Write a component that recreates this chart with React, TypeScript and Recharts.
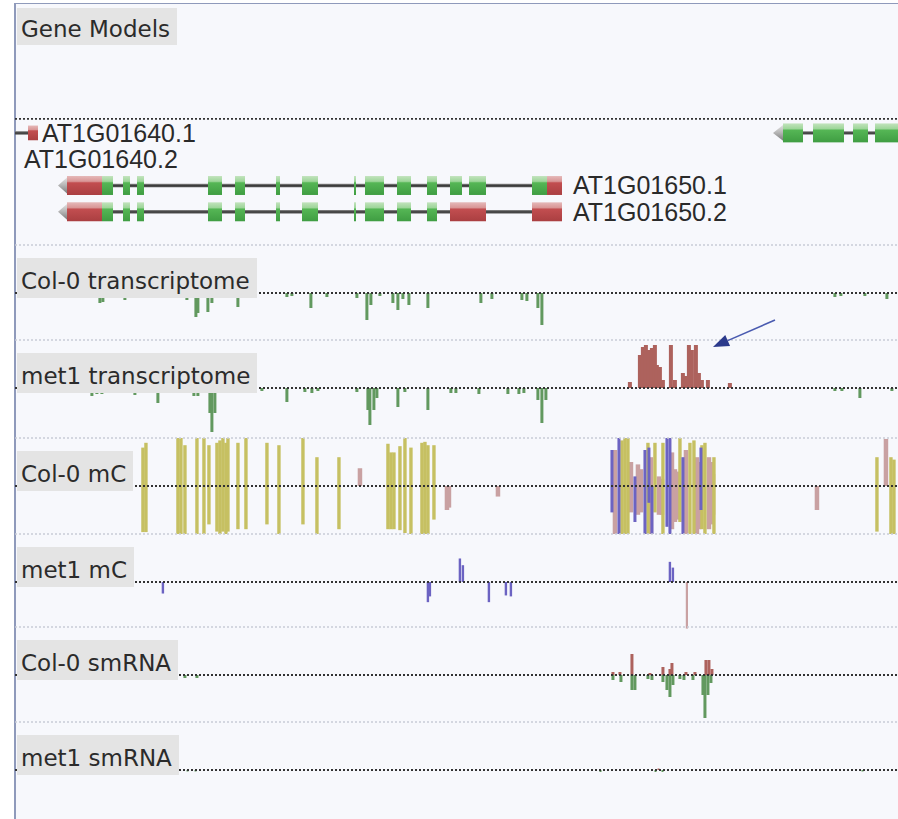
import React from 'react';
import {
  ComposedChart,
  Bar,
  XAxis,
  YAxis,
  ReferenceLine,
  ReferenceArea,
  ReferenceDot,
} from 'recharts';

// window shown: 8.83 kb, positions in bp from the left edge of the panel
const SPAN = 8830;
const PLOT_W = 883;
const TRACK_H = 96;

const TX_GREEN = '#62995f';
const TX_RED = '#ad625d';
const MC_CG = '#c6c062';
const MC_CHG = '#6c63c2';
const MC_CHH = '#c9a1a2';

// ---------- gene models ----------
const geneLabels = [
  { name: 'AT1G01640.1', pos: 270, row: 1 },
  { name: 'AT1G01640.2', pos: 90, row: 2 },
  { name: 'AT1G01650.1', pos: 5580, row: 3 },
  { name: 'AT1G01650.2', pos: 5580, row: 4 },
];
// [row, start, end]
const geneBackbones: [number, number, number][] = [
  [1, 0, 130],
  [3, 500, 5470],
  [4, 500, 5470],
  [1, 7660, SPAN],
];
const geneTips: [number, number, number][] = [
  [3, 430, 520],
  [4, 430, 520],
  [1, 7580, 7680],
];
type Exon = [number, number, 'cds' | 'utr'];
const exons1640_1: Exon[] = [[130, 230, 'utr']];
const exons1650_1: Exon[] = [
  [520, 870, 'utr'], [870, 980, 'cds'], [1080, 1150, 'cds'], [1220, 1290, 'cds'],
  [1930, 2070, 'cds'], [2200, 2300, 'cds'], [2610, 2650, 'cds'], [2870, 3030, 'cds'],
  [3390, 3410, 'cds'], [3500, 3690, 'cds'], [3820, 3960, 'cds'], [4120, 4220, 'cds'],
  [4350, 4470, 'cds'], [4540, 4710, 'cds'], [5170, 5320, 'cds'], [5320, 5470, 'utr'],
];
const exons1650_2: Exon[] = [
  [520, 870, 'utr'], [870, 980, 'cds'], [1080, 1150, 'cds'], [1220, 1290, 'cds'],
  [1930, 2070, 'cds'], [2200, 2300, 'cds'], [2610, 2650, 'cds'], [2870, 3030, 'cds'],
  [3390, 3410, 'cds'], [3500, 3690, 'cds'], [3820, 3960, 'cds'], [4120, 4220, 'cds'],
  [4350, 4710, 'utr'], [5170, 5470, 'utr'],
];
const exonsNext: Exon[] = [
  [7680, 7880, 'cds'], [7980, 8290, 'cds'], [8380, 8530, 'cds'], [8600, SPAN, 'cds'],
];

// ---------- transcriptome (read coverage, - strand down) ----------
const col0TxMinus: [number, number][] = [
  [850, -10], [880, -9], [1100, -7], [1720, -7], [1810, -24], [1830, -20], [1930, -19],
  [1970, -10], [2230, -14], [2720, -4], [2770, -3], [2960, -15], [3120, -4], [3420, -5],
  [3520, -27], [3560, -12], [3650, -3], [3780, -10], [3830, -17], [3880, -6], [3940, -12],
  [4130, -15], [4660, -10], [4770, -6], [5070, -7], [5120, -8], [5230, -15], [5270, -32],
  [8200, -4], [8260, -3], [8500, -3], [8720, -6],
];
const met1TxMinus: [number, number][] = [
  [770, -8], [820, -6], [870, -6], [1200, -7], [1430, -15], [1790, -8], [1830, -8],
  [1950, -25], [1970, -44], [2000, -25], [2250, -4], [2400, -3], [2470, -3], [2720, -14],
  [2900, -4], [2970, -5], [3030, -3], [3420, -4], [3530, -22], [3550, -37], [3590, -22],
  [3620, -10], [3830, -19], [3900, -4], [4130, -22], [4360, -5], [4410, -5], [4640, -6],
  [4930, -6], [5040, -6], [5090, -5], [5230, -12], [5270, -35], [5310, -12], [8200, -3],
  [8270, -3], [8450, -10], [8770, -3],
];
const met1TxPlus: [number, number][] = [
  [6150, 6], [6250, 33], [6280, 41], [6310, 43], [6340, 38], [6370, 40], [6400, 43],
  [6420, 23], [6450, 21], [6480, 8], [6560, 43], [6600, 8], [6680, 15], [6710, 12],
  [6740, 43], [6770, 38], [6810, 43], [6840, 15], [6870, 8], [6930, 8], [7150, 5],
];
const arrowFrom = { pos: 7600, v: 68 };
const arrowTo = { pos: 6980, v: 41 };

// ---------- methylation [pos, low, high] ----------
const col0CG: [number, number, number][] = [
  [1280, -0.96, 0.8], [1310, -0.96, 0.9], [1630, -1, 1], [1660, -1, 1], [1700, -1, 0.85],
  [1820, -1, 1], [1890, -1, 1], [1940, -0.8, 0.85], [2020, -0.95, 0.9], [2050, -1, 0.95],
  [2080, -0.95, 1], [2110, -1, 0.9], [2130, -0.95, 1], [2230, -0.9, 0.9], [2310, -0.9, 1],
  [2520, -0.8, 0.9], [2640, -1, 0.85], [2880, -0.8, 1], [3020, -1, 0.6], [3240, -0.9, 0.6],
  [3730, -0.9, 0.88], [3760, -0.9, 0.7], [3790, -0.9, 0.7], [3850, -0.92, 0.83],
  [3900, -0.98, 1], [3960, -1, 0.8], [4070, -1, 0.9], [4100, -1, 0.92], [4130, -1, 0.85],
  [4190, -0.7, 0.85],
  [6070, -1, 0.95], [6100, -1, 1], [6130, -1, 1], [6330, -1, 0.9], [6400, -0.55, 0.9],
  [6480, -1, 0.9], [6650, -0.75, 1], [6750, -1, 0.9], [6790, -1, 0.95], [6870, -0.9, 0.85],
  [6900, -1, 0.9], [6990, -1, 0.6],
  [8620, -0.95, 0.6], [8760, -1, 0.6], [8790, -1, 0.55],
];
const col0CHG: [number, number, number][] = [
  [5970, -0.55, 0.75], [6040, -1, 1], [6200, -0.75, 0.2], [6300, -1, 0.75], [6340, -0.35, 0.8],
  [6370, -1, 0], [6520, -0.85, 1], [6550, -1, 1], [6680, -1, 0.6], [6860, -0.5, 0.8],
];
const col0CHH: [number, number, number][] = [
  [3450, 0, 0.37], [4320, -0.5, 0], [4340, -0.45, 0], [4830, -0.22, 0],
  [6000, -1, 0.75], [6160, -0.55, 0.5], [6230, -0.6, 0.45], [6260, -0.55, 0.35], [6360, -1, 0.6],
  [6440, -0.6, 0.2], [6470, -0.6, 0.15], [6570, -0.9, 0.7], [6600, -0.75, 0.35],
  [6620, -0.7, 0.3], [6710, -1, 0.75], [6820, -1, 0.6], [6840, -0.9, 0.5],
  [6940, -0.9, 0.6], [6960, -0.8, 0.5], [6980, -0.6, 0.25],
  [8020, -0.5, 0], [8710, 0, 0.98],
];
const met1CHG: [number, number][] = [
  [1480, -0.24], [4130, -0.42], [4150, -0.3], [4450, 0.49], [4480, 0.35], [4740, -0.42],
  [4910, -0.28], [4960, -0.3], [6550, 0.42], [6580, 0.3],
];
const met1CHH: [number, number][] = [[6720, -0.97]];

// ---------- small RNA ----------
const col0SmMinus: [number, number][] = [
  [1700, -3], [1820, -3], [5980, -5], [6060, -7], [6170, -15], [6200, -15], [6330, -4],
  [6370, -5], [6480, -7], [6520, -15], [6550, -22], [6580, -10], [6650, -4], [6690, -5],
  [6780, -5], [6880, -20], [6900, -43], [6930, -20], [6960, -8],
];
const col0SmPlus: [number, number][] = [
  [5980, 3], [6050, 3], [6170, 21], [6350, 2], [6480, 8], [6550, 6], [6570, 12],
  [6710, 3], [6800, 3], [6910, 15], [6940, 15], [6970, 6],
];
const met1SmMinus: [number, number][] = [
  [1720, -1.5], [1800, -1.5], [5850, -2], [6400, -2], [6470, -2], [8470, -1.5],
];
const met1SmPlus: [number, number][] = [[6430, 1.5]];

type Series = { data: { pos: number; v: number | [number, number] }[]; color: string; w: number };

const pts = (a: [number, number][]) => a.map(([pos, v]) => ({ pos, v }));
const ranges = (a: [number, number, number][]) =>
  a.map(([pos, lo, hi]) => ({ pos, v: [lo, hi] as [number, number] }));

// draw each bar with a fixed width, centred on its position
const thinBar = (w: number) => (p: any) => {
  const { x, y, width, height, fill } = p;
  if (![x, y, width, height].every((n) => Number.isFinite(n))) return <g />;
  const cx = x + width / 2;
  return (
    <rect x={cx - w / 2} y={Math.min(y, y + height)} width={w} height={Math.abs(height)} fill={fill} />
  );
};

const ArrowShape = (p: any) => {
  const { x1, y1, x2, y2 } = p;
  const a = Math.atan2(y2 - y1, x2 - x1);
  const L = 16;
  const W = 6;
  const bx = x2 - L * Math.cos(a);
  const by = y2 - L * Math.sin(a);
  const nx = -Math.sin(a) * W;
  const ny = Math.cos(a) * W;
  return (
    <g>
      <line x1={x1} y1={y1} x2={bx} y2={by} stroke="#4a5bb0" strokeWidth={1.6} />
      <polygon points={`${x2},${y2} ${bx + nx},${by + ny} ${bx - nx},${by - ny}`} fill="#2c3a8c" />
    </g>
  );
};

const TipShape = (p: any) => {
  const { x, y, width, height } = p;
  return (
    <polygon
      points={`${x},${y + height / 2} ${x + width},${y} ${x + width},${y + height}`}
      fill="url(#tipGrad)"
    />
  );
};

const TrackLabel = ({ top, text, h = 40 }: { top: number; text: string; h?: number }) => (
  <div
    style={{
      position: 'absolute',
      left: 17,
      top,
      height: h - 3,
      paddingTop: 3,
      paddingLeft: 4,
      paddingRight: 7,
      lineHeight: `${h}px`,
      background: '#e4e4e4',
      fontFamily: '"DejaVu Sans", Verdana, sans-serif',
      fontSize: 23,
      color: '#2b2b2b',
      whiteSpace: 'nowrap',
    }}
  >
    {text}
  </div>
);

const Track = ({
  top,
  max,
  series,
  children,
}: {
  top: number;
  max: number;
  series: Series[];
  children?: React.ReactNode;
}) => {
  const rows = series.flatMap((s, i) => s.data.map((d) => ({ pos: d.pos, ['s' + i]: d.v })));
  return (
    <div style={{ position: 'absolute', left: 15, top, width: PLOT_W, height: TRACK_H }}>
      <ComposedChart width={PLOT_W} height={TRACK_H} data={rows} margin={{ top: 0, right: 0, bottom: 0, left: 0 }}>
        <YAxis type="number" domain={[-max, max]} hide allowDataOverflow />
        {series.map((s, i) => (
          <XAxis key={i} xAxisId={i} type="number" dataKey="pos" domain={[0, SPAN]} hide allowDataOverflow />
        ))}
        <ReferenceLine xAxisId={0} y={max} stroke="#c9ccd6" strokeDasharray="2 2" strokeWidth={1.5} />
        <ReferenceLine xAxisId={0} y={0} stroke="#333" strokeDasharray="2 2" strokeWidth={1.8} />
        {series.map((s, i) => (
          <Bar
            key={i}
            xAxisId={i}
            dataKey={'s' + i}
            fill={s.color}
            barSize={s.w}
            isAnimationActive={false}
            shape={thinBar(s.w)}
          />
        ))}
        {children}
      </ComposedChart>
    </div>
  );
};

const exonAreas = (row: number, exons: Exon[], half = 0.36) =>
  exons.map(([s, e, kind], i) => (
    <ReferenceArea
      key={`${row}-${s}-${i}`}
      x1={s}
      x2={e}
      y1={row - half}
      y2={row + half}
      fill={kind === 'cds' ? 'url(#cdsGrad)' : 'url(#utrGrad)'}
      fillOpacity={1}
      stroke="none"
    />
  ));

const GeneModels = () => (
  <div style={{ position: 'absolute', left: 15, top: 4, width: PLOT_W, height: 242 }}>
    <ComposedChart width={PLOT_W} height={242} data={geneLabels} margin={{ top: 0, right: 0, bottom: 0, left: 0 }}>
      <defs>
        <linearGradient id="cdsGrad" x1="0" y1="0" x2="0" y2="1">
          <stop offset="0" stopColor="#c2e3bd" />
          <stop offset="0.28" stopColor="#9ed69a" />
          <stop offset="0.36" stopColor="#55b655" />
          <stop offset="1" stopColor="#3f9d42" />
        </linearGradient>
        <linearGradient id="utrGrad" x1="0" y1="0" x2="0" y2="1">
          <stop offset="0" stopColor="#e5b9b9" />
          <stop offset="0.28" stopColor="#d99696" />
          <stop offset="0.36" stopColor="#c24e50" />
          <stop offset="1" stopColor="#aa3f41" />
        </linearGradient>
        <linearGradient id="tipGrad" x1="0" y1="0" x2="0" y2="1">
          <stop offset="0" stopColor="#e2e2e2" />
          <stop offset="0.45" stopColor="#b9b9b9" />
          <stop offset="1" stopColor="#7d7d7d" />
        </linearGradient>
        <linearGradient id="lineGrad" x1="0" y1="0" x2="0" y2="1">
          <stop offset="0" stopColor="#8a8a8a" />
          <stop offset="0.5" stopColor="#3c3c3c" />
          <stop offset="1" stopColor="#555" />
        </linearGradient>
      </defs>
      <XAxis type="number" dataKey="pos" domain={[0, SPAN]} hide allowDataOverflow />
      <YAxis type="number" dataKey="row" domain={[-3.9, 5.3]} reversed hide allowDataOverflow />
      <ReferenceLine y={0.47} stroke="#333" strokeDasharray="2 2" strokeWidth={1.8} />
      {geneBackbones.map(([row, s, e], i) => (
        <ReferenceArea
          key={'bb' + i}
          x1={s}
          x2={e}
          y1={row - 0.065}
          y2={row + 0.065}
          fill="url(#lineGrad)"
          fillOpacity={1}
          stroke="none"
        />
      ))}
      {geneTips.map(([row, s, e], i) => (
        <ReferenceArea key={'tip' + i} x1={s} x2={e} y1={row - 0.3} y2={row + 0.3} shape={TipShape} />
      ))}
      {exonAreas(1, exons1640_1, 0.28)}
      {exonAreas(3, exons1650_1)}
      {exonAreas(4, exons1650_2)}
      {exonAreas(1, exonsNext)}
      {geneLabels.map((g) => (
        <ReferenceDot
          key={g.name}
          x={g.pos}
          y={g.row}
          r={0}
          fill="none"
          stroke="none"
          label={{
            value: g.name,
            position: 'right',
            offset: 0,
            fill: '#2a2a2a',
            fontSize: 25,
            fontFamily: '"Liberation Sans", Arial, sans-serif',
          }}
        />
      ))}
    </ComposedChart>
  </div>
);

const trackTops = [245, 340, 438, 534, 627, 722];
const trackNames = [
  'Col-0 transcriptome',
  'met1 transcriptome',
  'Col-0 mC',
  'met1 mC',
  'Col-0 smRNA',
  'met1 smRNA',
];

export default function App() {
  return (
    <div style={{ position: 'fixed', left: 0, top: 0, width: 898, height: 819, background: '#fff', overflow: 'hidden' }}>
      <style>{'.recharts-surface{overflow:visible}'}</style>
      <div
        style={{
          position: 'absolute',
          left: 14,
          top: 3,
          width: 884,
          height: 816,
          background: '#f7f8fc',
          borderLeft: '2px solid #8f9abb',
          borderTop: '1px solid #8f9abb',
        }}
      />
      <GeneModels />
      <Track top={trackTops[0]} max={48} series={[{ data: pts(col0TxMinus), color: TX_GREEN, w: 3 }]} />
      <Track
        top={trackTops[1]}
        max={48}
        series={[
          { data: pts(met1TxMinus), color: TX_GREEN, w: 3 },
          { data: pts(met1TxPlus), color: TX_RED, w: 4 },
        ]}
      >
        <ReferenceLine
          xAxisId={0}
          segment={[{ x: arrowFrom.pos, y: arrowFrom.v }, { x: arrowTo.pos, y: arrowTo.v }]}
          ifOverflow="visible"
          shape={ArrowShape}
        />
      </Track>
      <Track
        top={trackTops[2]}
        max={1}
        series={[
          { data: ranges(col0CHH), color: MC_CHH, w: 4.5 },
          { data: ranges(col0CG), color: MC_CG, w: 3.4 },
          { data: ranges(col0CHG), color: MC_CHG, w: 3 },
        ]}
      />
      <Track
        top={trackTops[3]}
        max={1}
        series={[
          { data: pts(met1CHG), color: MC_CHG, w: 2.4 },
          { data: pts(met1CHH), color: MC_CHH, w: 2.2 },
        ]}
      />
      <Track
        top={trackTops[4]}
        max={48}
        series={[
          { data: pts(col0SmMinus), color: TX_GREEN, w: 3 },
          { data: pts(col0SmPlus), color: TX_RED, w: 3 },
        ]}
      />
      <Track
        top={trackTops[5]}
        max={48}
        series={[
          { data: pts(met1SmMinus), color: TX_GREEN, w: 2 },
          { data: pts(met1SmPlus), color: TX_RED, w: 2 },
        ]}
      />
      <TrackLabel top={8} text="Gene Models" h={37} />
      {trackNames.map((name, i) => (
        <TrackLabel key={name} top={trackTops[i] + 13} text={name} />
      ))}
    </div>
  );
}
